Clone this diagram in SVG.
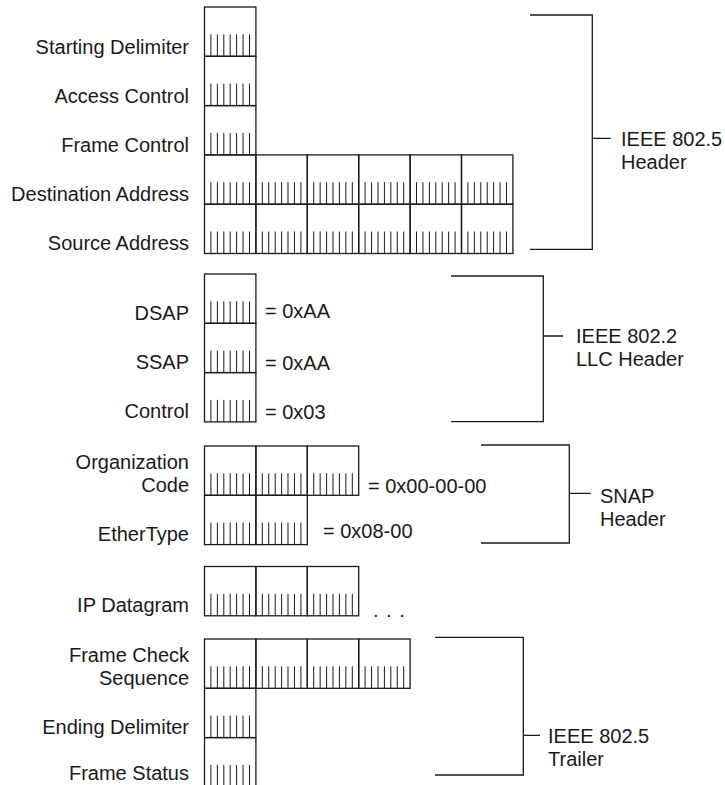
<svg xmlns="http://www.w3.org/2000/svg" xmlns:xlink="http://www.w3.org/1999/xlink" width="725" height="785" viewBox="0 0 725 785">
<style>
text{font-family:"Liberation Sans",Arial,sans-serif;font-size:20px;fill:#1a1a1a}
.lbl{text-anchor:end}
.box{fill:none;stroke:#1a1a1a;stroke-width:1.3}
.tick{stroke:#1a1a1a;stroke-width:1}
.br{fill:none;stroke:#1a1a1a;stroke-width:1.3}
</style>
<defs>
<g id="byte">
<rect class="box" x="0" y="0" width="51.4" height="49.3"/>
<path class="tick" d="M6.4,27.3V49.3M12.85,27.3V49.3M19.3,27.3V49.3M25.7,27.3V49.3M32.1,27.3V49.3M38.55,27.3V49.3M45,27.3V49.3"/>
</g>
</defs>
<rect width="725" height="785" fill="#ffffff"/>

<g id="starting-delimiter">
<text class="lbl" x="189" y="54">Starting Delimiter</text>
<use xlink:href="#byte" x="204.5" y="7"/>
</g>
<g id="access-control">
<text class="lbl" x="189" y="103">Access Control</text>
<use xlink:href="#byte" x="204.5" y="56.3"/>
</g>
<g id="frame-control">
<text class="lbl" x="189" y="152">Frame Control</text>
<use xlink:href="#byte" x="204.5" y="105.6"/>
</g>
<g id="destination-address">
<text class="lbl" x="189" y="201">Destination Address</text>
<use xlink:href="#byte" x="204.5" y="154.9"/>
<use xlink:href="#byte" x="255.9" y="154.9"/>
<use xlink:href="#byte" x="307.3" y="154.9"/>
<use xlink:href="#byte" x="358.7" y="154.9"/>
<use xlink:href="#byte" x="410.1" y="154.9"/>
<use xlink:href="#byte" x="461.5" y="154.9"/>
</g>
<g id="source-address">
<text class="lbl" x="189" y="250">Source Address</text>
<use xlink:href="#byte" x="204.5" y="204.2"/>
<use xlink:href="#byte" x="255.9" y="204.2"/>
<use xlink:href="#byte" x="307.3" y="204.2"/>
<use xlink:href="#byte" x="358.7" y="204.2"/>
<use xlink:href="#byte" x="410.1" y="204.2"/>
<use xlink:href="#byte" x="461.5" y="204.2"/>
</g>

<g id="dsap">
<text class="lbl" x="189" y="320">DSAP</text>
<use xlink:href="#byte" x="204.5" y="274"/>
<text x="265" y="318">= 0xAA</text>
</g>
<g id="ssap">
<text class="lbl" x="189" y="369">SSAP</text>
<use xlink:href="#byte" x="204.5" y="323.3"/>
<text x="265" y="370">= 0xAA</text>
</g>
<g id="control">
<text class="lbl" x="189" y="418">Control</text>
<use xlink:href="#byte" x="204.5" y="372.6"/>
<text x="265" y="419">= 0x03</text>
</g>

<g id="organization-code">
<text class="lbl" x="189" y="469">Organization</text>
<text class="lbl" x="189" y="492">Code</text>
<use xlink:href="#byte" x="204.5" y="446"/>
<use xlink:href="#byte" x="255.9" y="446"/>
<use xlink:href="#byte" x="307.3" y="446"/>
<text x="368" y="493">= 0x00-00-00</text>
</g>
<g id="ethertype">
<text class="lbl" x="189" y="541">EtherType</text>
<use xlink:href="#byte" x="204.5" y="495.3"/>
<use xlink:href="#byte" x="255.9" y="495.3"/>
<text x="323" y="538">= 0x08-00</text>
</g>

<g id="ip-datagram">
<text class="lbl" x="189" y="612">IP Datagram</text>
<use xlink:href="#byte" x="204.5" y="566.5"/>
<use xlink:href="#byte" x="255.9" y="566.5"/>
<use xlink:href="#byte" x="307.3" y="566.5"/>
<text x="373" y="617" letter-spacing="1">. . .</text>
</g>

<g id="frame-check-sequence">
<text class="lbl" x="189" y="662">Frame Check</text>
<text class="lbl" x="189" y="685">Sequence</text>
<use xlink:href="#byte" x="204.5" y="639"/>
<use xlink:href="#byte" x="255.9" y="639"/>
<use xlink:href="#byte" x="307.3" y="639"/>
<use xlink:href="#byte" x="358.7" y="639"/>
</g>
<g id="ending-delimiter">
<text class="lbl" x="189" y="734">Ending Delimiter</text>
<use xlink:href="#byte" x="204.5" y="688.3"/>
</g>
<g id="frame-status">
<text class="lbl" x="189" y="780">Frame Status</text>
<use xlink:href="#byte" x="204.5" y="737.6"/>
</g>

<g id="connectors">
<path class="br" d="M530,15H592.3V249.3H530M592.3,138.3H610.7"/>
<path class="br" d="M451,276H543.3V421.7H451M543.3,336H563"/>
<path class="br" d="M481,445H569.3V543H481M569.3,493.3H590.7"/>
<path class="br" d="M435,637.3H523.3V775H435M523.3,735.3H540"/>
</g>

<g id="ieee-802-5-header">
<text x="621" y="146">IEEE 802.5</text>
<text x="621" y="169">Header</text>
</g>
<g id="ieee-802-2-llc-header">
<text x="576" y="343">IEEE 802.2</text>
<text x="576" y="366">LLC Header</text>
</g>
<g id="snap-header">
<text x="600" y="503">SNAP</text>
<text x="600" y="526">Header</text>
</g>
<g id="ieee-802-5-trailer">
<text x="548" y="743">IEEE 802.5</text>
<text x="548" y="766">Trailer</text>
</g>
</svg>
